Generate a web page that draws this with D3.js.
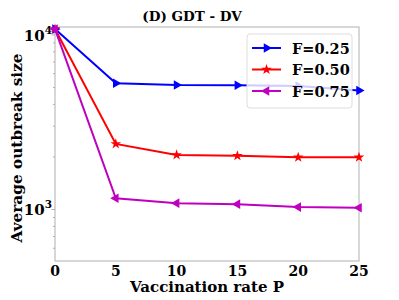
<!DOCTYPE html>
<html><head><meta charset="utf-8">
<script src="https://cdn.jsdelivr.net/npm/d3@7"></script>
<style>body{margin:0;background:#fff}svg{display:block}</style>
</head><body><div id="c"></div>
<script>
const xVals = [0, 5, 10, 15, 20, 25];
const seriesNames = ["F=0.25", "F=0.50", "F=0.75"];
const f025 = [10800, 5290, 5170, 5150, 5100, 4800];
const f050 = [10800, 2375, 2055, 2030, 1990, 1990];
const f075 = [10800, 1160, 1087, 1073, 1032, 1023];
const colors = ["#0000ff", "#ff0000", "#bf00bf"];
const xTicks = [0, 5, 10, 15, 20, 25];
const yMajor = [1000, 10000];
const yMinor = [600,700,800,900,2000,3000,4000,5000,6000,7000,8000,9000];

const W = 399, H = 300;
const FF = "DejaVu Serif";
const m = {l: 55, r: 40, t: 27, b: 39};
const svg = d3.select("#c").append("svg").attr("width", W).attr("height", H)
  .attr("font-family", FF).attr("font-weight", "bold");
const x = d3.scaleLinear().domain([0, 25]).range([m.l, W - m.r]);
const y = d3.scaleLog().domain([507, 11100]).range([H - m.b, m.t]);
const gray = "#b0b0b0";

function T(sel) { return sel.attr("font-family", FF).attr("font-weight", "bold").attr("fill", "#000"); }

// frame
svg.append("rect").attr("x", m.l).attr("y", m.t).attr("width", x(25) - m.l).attr("height", y(507) - m.t)
  .attr("fill", "none").attr("stroke", gray).attr("stroke-width", 1);

// ticks
svg.selectAll(".mn").data(yMinor).enter().append("line")
  .attr("x1", m.l).attr("x2", m.l - 2).attr("y1", d => y(d)).attr("y2", d => y(d))
  .attr("stroke", gray);
svg.selectAll(".mj").data(yMajor).enter().append("line")
  .attr("x1", m.l).attr("x2", m.l - 3.5).attr("y1", d => y(d)).attr("y2", d => y(d))
  .attr("stroke", gray);

// y tick labels
const yl = T(svg.selectAll(".yl").data(yMajor).enter().append("text"))
  .attr("x", m.l - 3).attr("y", d => y(d) + 6).attr("text-anchor", "end").attr("font-size", 15);
yl.append("tspan").text("10");
yl.append("tspan").attr("dy", -7).attr("font-size", 10.5).text(d => Math.round(Math.log10(d)));

// x tick labels
T(svg.selectAll(".xl").data(xTicks).enter().append("text"))
  .attr("x", d => x(d)).attr("y", 276).attr("text-anchor", "middle").attr("font-size", 14).text(d => d);

// axis titles
T(svg.append("text")).attr("x", 207).attr("y", 292).attr("text-anchor", "middle").attr("font-size", 15).text("Vaccination rate P");
T(svg.append("text")).attr("transform", "translate(22,148) rotate(-90)").attr("text-anchor", "middle").attr("font-size", 15.3).text("Average outbreak size");
T(svg.append("text")).attr("x", 192).attr("y", 21).attr("text-anchor", "middle").attr("font-size", 13.5).text("(D) GDT - DV");

const data = [f025, f050, f075];
const line = d3.line().x((d, i) => x(xVals[i])).y(d => y(d));
const tri = d3.symbol().type(d3.symbolTriangle).size(40);
const star = d3.symbol().type(d3.symbolStar).size(35);
function marker(g, k, cx, cy) {
  if (k === 1) {
    g.append("path").attr("d", star()).attr("transform", `translate(${cx},${cy})`).attr("fill", colors[k]);
  } else {
    const rot = k === 0 ? 90 : -90;
    g.append("path").attr("d", tri()).attr("transform", `translate(${cx},${cy}) rotate(${rot})`).attr("fill", colors[k]);
  }
}
data.forEach((s, k) => {
  const g = svg.append("g");
  g.append("path").datum(s).attr("d", line).attr("fill", "none").attr("stroke", colors[k]).attr("stroke-width", 2);
  s.forEach((v, i) => marker(g, k, x(xVals[i]), y(v)));
});

// legend
const lg = svg.append("g");
lg.append("rect").attr("x", 247).attr("y", 34).attr("width", 105).attr("height", 74).attr("rx", 3)
  .attr("fill", "rgba(255,255,255,0.8)").attr("stroke", "#dddddd");
seriesNames.forEach((n, k) => {
  const cy = 48 + k * 21.5;
  lg.append("line").attr("x1", 252).attr("x2", 281).attr("y1", cy).attr("y2", cy).attr("stroke", colors[k]).attr("stroke-width", 2);
  marker(lg, k, 266.5, cy);
  T(lg.append("text")).attr("x", 292).attr("y", cy + 5.5).attr("font-size", 14.5).text(n);
});
</script></body></html>
